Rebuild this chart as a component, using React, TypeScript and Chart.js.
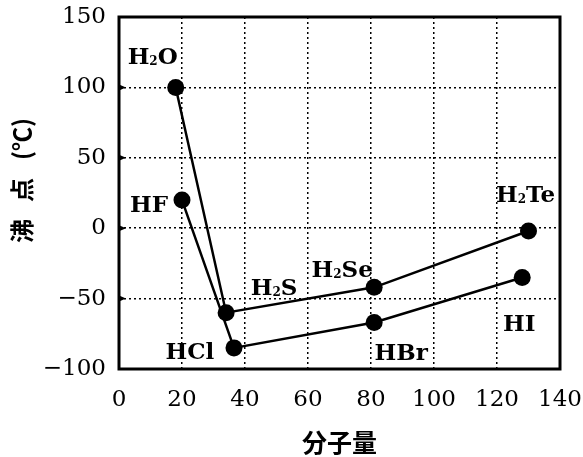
import React, { useEffect, useRef } from "react";
import { Chart, registerables } from "chart.js";

Chart.register(...registerables);

const chalcogenNames = ["H2O", "H2S", "H2Se", "H2Te"];
const chalcogenMass = [18, 34, 81, 130];
const chalcogenBoil = [100, -60, -42, -2];

const halogenNames = ["HF", "HCl", "HBr", "HI"];
const halogenMass = [20, 36.5, 81, 128];
const halogenBoil = [20, -85, -67, -35];

const xTicks = [0, 20, 40, 60, 80, 100, 120, 140];
const yTicks = [-100, -50, 0, 50, 100, 150];

const xTitle = "分子量";
const yTitleParts = ["沸", "点", "(℃)"];

// label offsets (pixels) relative to point centers
const chalcogenOffsets = [[-23, -32], [48, -26], [-32, -19], [-3, -38]];
const halogenOffsets = [[-33, 3], [-44, 3], [27, 29], [-3, 45]];

const SERIF = "'DejaVu Serif', 'Liberation Serif', serif";
const CJK = "'Noto Sans CJK JP', 'Noto Sans CJK SC', sans-serif";

function drawChem(ctx: CanvasRenderingContext2D, text: string, cx: number, cy: number) {
  const parts: { t: string; sub: boolean }[] = [];
  for (const ch of text) {
    const sub = /[0-9]/.test(ch);
    const last = parts[parts.length - 1];
    if (last && last.sub === sub) last.t += ch;
    else parts.push({ t: ch, sub });
  }
  const big = `bold 23px ${SERIF}`;
  const small = `bold 12px ${SERIF}`;
  let total = 0;
  const widths = parts.map((p) => {
    ctx.font = p.sub ? small : big;
    const w = ctx.measureText(p.t).width;
    total += w;
    return w;
  });
  let x = cx - total / 2;
  ctx.textAlign = "left";
  ctx.textBaseline = "alphabetic";
  ctx.fillStyle = "#000";
  const base = cy + 8.5;
  parts.forEach((p, i) => {
    ctx.font = p.sub ? small : big;
    ctx.fillText(p.t, x, p.sub ? base + 1 : base);
    x += widths[i];
  });
}

const decorPlugin = {
  id: "decor",
  afterDraw(chart: any) {
    const { ctx, chartArea } = chart;
    const { left, right, top, bottom } = chartArea;
    ctx.save();
    ctx.setLineDash([]);
    ctx.strokeStyle = "#000";
    ctx.lineWidth = 3;
    ctx.strokeRect(left, top, right - left, bottom - top);
    const ys = chart.scales.y;
    ctx.fillStyle = "#000";
    yTicks.forEach((v) => {
      if (v === yTicks[0] || v === yTicks[yTicks.length - 1]) return;
      const py = ys.getPixelForValue(v);
      ctx.beginPath();
      ctx.moveTo(left, py - 3);
      ctx.lineTo(left + 7, py);
      ctx.lineTo(left, py + 3);
      ctx.closePath();
      ctx.fill();
    });
    const drawLabels = (dsIndex: number, names: string[], offs: number[][]) => {
      const meta = chart.getDatasetMeta(dsIndex);
      meta.data.forEach((pt: any, i: number) => {
        drawChem(ctx, names[i], pt.x + offs[i][0], pt.y + offs[i][1]);
      });
    };
    drawLabels(0, chalcogenNames, chalcogenOffsets);
    drawLabels(1, halogenNames, halogenOffsets);
    ctx.fillStyle = "#000";
    ctx.font = `bold 25px ${CJK}`;
    ctx.textAlign = "center";
    ctx.textBaseline = "middle";
    ctx.fillText(xTitle, (left + right) / 2, 442);
    ctx.save();
    ctx.translate(22, 183);
    ctx.rotate(-Math.PI / 2);
    ctx.font = `bold 24px ${CJK}`;
    const pos = [-48, -7, 44];
    yTitleParts.forEach((t, i) => ctx.fillText(t, pos[i], 0));
    ctx.restore();
    ctx.restore();
  },
};

const zeroPad = (s: any) => {
  s.paddingTop = 0;
  s.paddingBottom = 0;
  s.paddingLeft = 0;
  s.paddingRight = 0;
};

export default function App() {
  const ref = useRef<HTMLCanvasElement | null>(null);
  useEffect(() => {
    if (!ref.current) return;
    const mk = (xs: number[], ys: number[]) => xs.map((x, i) => ({ x, y: ys[i] }));
    const common = {
      showLine: true,
      borderColor: "#000",
      backgroundColor: "#000",
      borderWidth: 2.5,
      pointRadius: 8.5,
      pointBackgroundColor: "#000",
      pointBorderColor: "#000",
      pointBorderWidth: 0,
    };
    const chart = new Chart(ref.current, {
      type: "scatter",
      data: {
        datasets: [
          { ...common, data: mk(chalcogenMass, chalcogenBoil) },
          { ...common, data: mk(halogenMass, halogenBoil) },
        ],
      },
      options: {
        responsive: false,
        animation: false,
        layout: { autoPadding: false, padding: { top: 17, right: 23, left: 0, bottom: 0 } },
        plugins: { legend: { display: false }, tooltip: { enabled: false } },
        scales: {
          x: {
            type: "linear",
            min: 0,
            max: 140,
            afterFit: (s: any) => { s.height = 88; zeroPad(s); },
            afterBuildTicks: (s: any) => { s.ticks = xTicks.map((v) => ({ value: v })); },
            grid: { color: "#000", lineWidth: 1.5, drawTicks: false },
            border: { display: false, dash: [2, 3] },
            ticks: {
              color: "#000",
              font: { family: SERIF, size: 23 },
              padding: 17,
              callback: (v: any) => String(v),
            },
          },
          y: {
            type: "linear",
            min: -100,
            max: 150,
            afterFit: (s: any) => { s.width = 119; zeroPad(s); },
            afterBuildTicks: (s: any) => { s.ticks = yTicks.map((v) => ({ value: v })); },
            grid: { color: "#000", lineWidth: 1.5, drawTicks: false },
            border: { display: false, dash: [2, 3] },
            ticks: {
              color: "#000",
              font: { family: SERIF, size: 23 },
              padding: 13,
              callback: (v: any) => (v < 0 ? "\u2212" + Math.abs(v) : String(v)),
            },
          },
        },
      },
      plugins: [decorPlugin],
    });
    return () => chart.destroy();
  }, []);
  return (
    <div style={{ position: "fixed", left: 0, top: 0, width: 583, height: 457, background: "#fff" }}>
      <canvas ref={ref} width={583} height={457} style={{ width: 583, height: 457 }} />
    </div>
  );
}
